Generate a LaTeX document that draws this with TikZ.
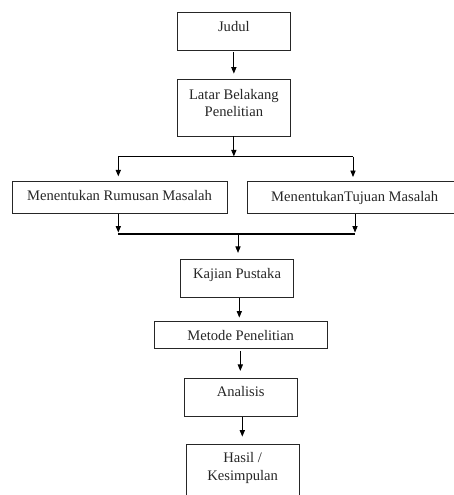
\documentclass[tikz,border=0pt]{standalone}
\usepackage{fontspec}
\setmainfont{Liberation Serif}
\usetikzlibrary{arrows.meta}
\newcommand{\bxt}[2]{\raisebox{#1}[0pt][0pt]{#2}}
\newcommand{\bxtt}[2]{\raisebox{#1}[0pt][0pt]{\begin{tabular}[t]{@{}c@{}}#2\end{tabular}}}
\begin{document}
\begin{tikzpicture}[x=1pt,y=-1pt,
  box/.style={draw=black!85, line width=0.8pt, inner sep=0pt, rectangle,
    font=\fontsize{14.6}{17}\selectfont, text=black!85},
  arr/.style={draw=black, line width=0.9pt, -{Triangle[width=5.2pt,length=6.5pt]}},
  ln/.style={draw=black, line width=0.9pt},
  thickln/.style={draw=black, line width=1.8pt}]
\useasboundingbox (0,0) rectangle (453,495);
\node[box, minimum width=113.7pt, minimum height=37.7pt] (judul) at (233.85,31.15) {\bxt{-0.4pt}{Judul}};
\node[box, minimum width=112.3pt, minimum height=57pt] (latar) at (233.85,107.5) {\bxtt{7.95pt}{Latar Belakang\\[-0.3pt] Penelitian}};
\node[box, minimum width=215pt, minimum height=32.3pt] (rumusan) at (119.5,197.2) {\bxt{-3.45pt}{Menentukan Rumusan Masalah}};
\node[box, minimum width=214pt, minimum height=32pt] (tujuan) at (354.7,197.7) {\bxt{-3.65pt}{MenentukanTujuan Masalah}};
\node[box, minimum width=113.4pt, minimum height=38.4pt] (kajian) at (237,278.5) {\bxt{-0.05pt}{Kajian Pustaka}};
\node[box, minimum width=173.3pt, minimum height=26.7pt] (metode) at (240.7,335) {\bxt{-5.65pt}{Metode Penelitian}};
\node[box, minimum width=113.3pt, minimum height=38pt] (analisis) at (240.7,397.3) {\bxt{0.45pt}{Analisis}};
\node[box, minimum width=113.3pt, minimum height=57pt] (hasil) at (242.7,472.5) {\bxtt{9.95pt}{Hasil /\\[1pt] Kesimpulan}};
% junction coordinates
\coordinate (tl) at (118.3,156.7);
\coordinate (tr) at (353,156.7);
\coordinate (bl) at (118.3,234);
\coordinate (br) at (355,234);
\coordinate (bc) at (238,234);
% connectors
\draw[arr, shorten <=1.7pt, shorten >=5pt] (judul.south) -- (latar.north);
\draw[arr, shorten >=0.3pt] (latar.south) -- (latar.south |- tl);
\draw[ln] (tl) -- (tr);
\draw[arr, shorten >=4.3pt] (tl) -- (tl |- rumusan.north);
\draw[arr, shorten >=4.3pt] (tr) -- (tr |- tujuan.north);
\draw[arr, shorten >=1.5pt] (bl |- rumusan.south) -- (bl);
\draw[arr, shorten >=1.5pt] (br |- tujuan.south) -- (br);
\draw[thickln] (bl) -- (br);
\draw[arr, shorten >=6pt] (bc) -- (bc |- kajian.north);
\draw[arr, shorten >=3.7pt] ([xshift=2.3pt]kajian.south) -- ([xshift=2.3pt]kajian.south |- metode.north);
\draw[arr, shorten <=2.6pt, shorten >=7pt] ([xshift=-0.4pt]metode.south) -- ([xshift=-0.4pt]metode.south |- analisis.north);
\draw[arr, shorten >=7pt] ([xshift=1.6pt]analisis.south) -- ([xshift=1.6pt]analisis.south |- hasil.north);
\end{tikzpicture}
\end{document}
